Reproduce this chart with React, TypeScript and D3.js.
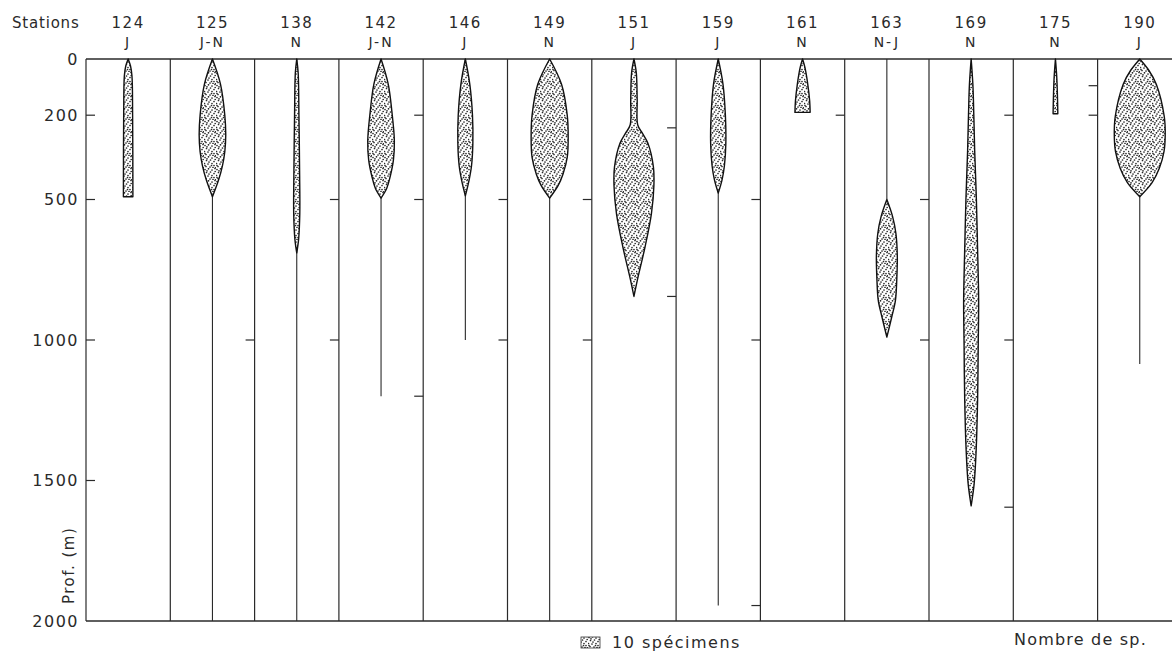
import React from "react";
import * as d3 from "d3";

// stations, day/night period, and where the thin sampling line stops (m)
const stations = ["124", "125", "138", "142", "146", "149", "151", "159", "161", "163", "169", "175", "190"];
const periods = ["J", "J-N", "N", "J-N", "J", "N", "J", "J", "N", "N-J", "N", "N", "J"];
const lineDepths: (number | null)[] = [null, 2000, 2000, 1200, 1000, 2000, null, 1945, null, 500, null, null, 1085];

const depthTicks = [0, 200, 500, 1000, 1500, 2000];

// small ticks on each column border (axis first, last border is off the picture)
const borderTicks: number[][] = [
  [200, 500, 1000, 1500],
  [],
  [1000],
  [500, 1000],
  [200, 500, 1200],
  [500, 1000],
  [500, 1000],
  [245, 845],
  [500, 1000, 1945],
  [200],
  [500, 1000],
  [200, 1000, 1595],
  [95, 200],
  [500, 1090],
];

// [depth m, number of specimens] read along each station's spindle
const profiles: [number, number][][] = [
  [[0, 0], [25, 2.5], [60, 4], [200, 4.7], [490, 5]],
  [[0, 0], [90, 8.5], [200, 13], [270, 14], [330, 13], [380, 10.5], [430, 6.5], [490, 0]],
  [[0, 0], [50, 1.5], [200, 2.3], [400, 3], [550, 3.2], [640, 2], [690, 0]],
  [[0, 0], [90, 7.6], [190, 11.5], [290, 14], [360, 13], [420, 9.5], [460, 6], [495, 0]],
  [[0, 0], [90, 4.7], [200, 7.5], [300, 7.9], [380, 6.5], [430, 4], [487, 0]],
  [[0, 0], [90, 12.5], [200, 18.5], [280, 19.5], [350, 18.5], [410, 14], [450, 9], [495, 0]],
  [[0, 0], [50, 2.5], [145, 3.4], [235, 4], [265, 9], [300, 14.7], [385, 20.5], [450, 21], [550, 18.4], [670, 11.6], [785, 3.7], [845, 0]],
  [[0, 0], [90, 5], [200, 7.5], [300, 8], [380, 6.5], [430, 4], [477, 0]],
  [[0, 0], [30, 2.5], [90, 5.5], [150, 7.5], [190, 8]],
  [[500, 0], [560, 6], [620, 9.5], [700, 11], [780, 10.5], [860, 9], [920, 5], [990, 0]],
  [[0, 0], [90, 1.8], [200, 2.8], [325, 3.7], [500, 5.5], [680, 6.8], [860, 7.9], [1000, 7.5], [1210, 6.8], [1390, 5.3], [1510, 3.2], [1590, 0]],
  [[0, 0], [60, 1.3], [120, 2], [195, 2.5]],
  [[0, 0], [40, 9.5], [90, 17.4], [205, 25.8], [270, 26.8], [330, 25.5], [390, 20.5], [440, 13], [490, 0]],
];

const legendCount = 10;

// texture dots for the stippled fill (one 12px tile)
const stippleDots = [
  [1, 1.5], [4.5, 0.8], [8, 2], [11, 0.5], [2.5, 4.5], [6.5, 4], [10, 5.5],
  [0.5, 7.5], [4, 8], [8, 7.5], [2, 10.5], [6, 11], [10, 9.5], [11.5, 11.8], [5, 6], [9, 11.5],
  [3, 2.8], [7.5, 9.5], [1, 9.5], [11.2, 3.5],
];

const W = 1172;
const H = 652;
const font = "'DejaVu Sans', sans-serif";
const ink = "#2a2a2a";

export default function App() {
  const y = d3.scaleLinear().domain([0, 2000]).range([59, 621]);
  const x = d3.scaleBand<string>().domain(stations).range([86, 86 + 13 * 84.3]).paddingInner(0).paddingOuter(0);
  const bw = x.bandwidth();
  const w = d3.scaleLinear().domain([0, legendCount]).range([0, 19]);
  const left = x.range()[0];
  const right = W;

  const spindle = (cx: number) =>
    d3
      .area<[number, number]>()
      .y((d) => y(d[0]))
      .x0((d) => cx - w(d[1]) / 2)
      .x1((d) => cx + w(d[1]) / 2)
      .curve(d3.curveCatmullRom.alpha(0.5));

  return (
    <svg width={W} height={H} style={{ position: "absolute", left: 0, top: 0, background: "#fff" }}>
      <defs>
        <pattern id="stipple" width={12} height={12} patternUnits="userSpaceOnUse">
          <rect width={12} height={12} fill="#fff" />
          {stippleDots.map(([px, py], i) => (
            <circle key={i} cx={px} cy={py} r={0.85} fill="#2a2a2a" />
          ))}
        </pattern>
      </defs>

      {/* frame */}
      <line x1={left} x2={right} y1={y(0)} y2={y(0)} stroke={ink} strokeWidth={1.3} />
      <line x1={left} x2={right} y1={y(2000)} y2={y(2000)} stroke={ink} strokeWidth={1.3} />
      {borderTicks.map((ticks, k) => {
        const bx = left + k * bw;
        const dir = k === 0 ? 1 : -1;
        return (
          <g key={k}>
            <line x1={bx} x2={bx} y1={y(0)} y2={y(2000)} stroke={ink} strokeWidth={1.2} />
            {ticks.map((t) => (
              <line key={t} x1={bx} x2={bx + dir * 9} y1={y(t)} y2={y(t)} stroke={ink} strokeWidth={1.2} />
            ))}
          </g>
        );
      })}

      {/* depth axis */}
      {depthTicks.map((t) => (
        <text key={t} x={79} y={y(t)} dy="0.36em" textAnchor="end" fontFamily={font} fontSize={16} letterSpacing={1.5} fill={ink}>
          {t}
        </text>
      ))}
      <text transform={`translate(74,604) rotate(-90)`} fontFamily={font} fontSize={15} letterSpacing={1.5} fill={ink}>
        Prof. (m)
      </text>

      {/* header */}
      <text x={12} y={28} fontFamily={font} fontSize={15} letterSpacing={0.8} fill={ink}>
        Stations
      </text>
      {stations.map((s, i) => {
        const cx = (x(s) ?? 0) + bw / 2;
        return (
          <g key={s}>
            <text x={cx} y={28} textAnchor="middle" fontFamily={font} fontSize={15} letterSpacing={1.5} fill={ink}>
              {s}
            </text>
            <text x={cx} y={47} textAnchor="middle" fontFamily={font} fontSize={14} letterSpacing={2} fill={ink}>
              {periods[i]}
            </text>
          </g>
        );
      })}

      {/* sampling lines and spindles */}
      {stations.map((s, i) => {
        const cx = (x(s) ?? 0) + bw / 2;
        const ld = lineDepths[i];
        return (
          <g key={s}>
            {ld !== null && <line x1={cx} x2={cx} y1={y(0)} y2={y(ld)} stroke={ink} strokeWidth={1.1} />}
            <path d={spindle(cx)(profiles[i]) ?? ""} fill="url(#stipple)" stroke="#111" strokeWidth={1.4} strokeLinejoin="round" />
          </g>
        );
      })}

      {/* legend */}
      <rect x={581} y={637} width={w(legendCount)} height={11} fill="url(#stipple)" stroke="#333" strokeWidth={0.8} />
      <text x={612} y={648} fontFamily={font} fontSize={16} letterSpacing={1.5} fill={ink}>
        10 spécimens
      </text>
      <text x={1014} y={645} fontFamily={font} fontSize={16} letterSpacing={1.2} fill={ink}>
        Nombre de sp.
      </text>
    </svg>
  );
}
